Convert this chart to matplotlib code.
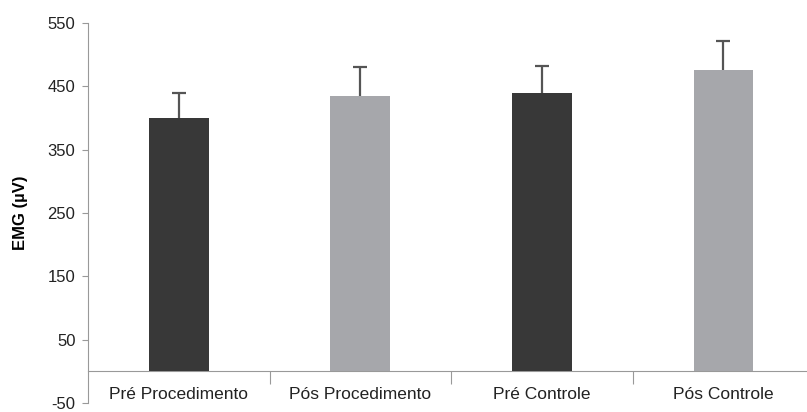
import matplotlib.pyplot as plt
import numpy as np

plt.rcParams['font.family'] = ['Liberation Sans', 'DejaVu Sans']
plt.rcParams['axes.unicode_minus'] = False

categories = ["Pré Procedimento", "Pós Procedimento", "Pré Controle", "Pós Controle"]
means = [400, 435, 440, 475]
errors = [40, 45, 42, 47]
colors = ["#383838", "#a6a7ab", "#383838", "#a6a7ab"]
yticks = [-50, 50, 150, 250, 350, 450, 550]

fig = plt.figure(figsize=(8.07, 4.12), dpi=100)
ax = fig.add_axes([88 / 807, 1 - 403 / 412, 1 - 88 / 807, (403 - 23) / 412])

x = np.arange(len(categories))
# bars drawn above the error bars so only the upper half shows
ax.bar(x, means, width=0.33, color=colors, zorder=3)
ax.errorbar(x, means, yerr=errors, fmt='none',
            ecolor="#555555", elinewidth=1.6, capsize=5, capthick=1.6, zorder=2)

ax.set_ylim(-50, 550)
ax.set_xlim(-0.5, 3.46)
ax.set_yticks(yticks)
ax.tick_params(axis='y', labelsize=12, colors="#999999", labelcolor="#222222",
               length=4, width=0.8, pad=5)

for s in ['top', 'right']:
    ax.spines[s].set_visible(False)
ax.spines['left'].set_color("#999999")
ax.spines['bottom'].set_position(('data', 0))
ax.spines['bottom'].set_color("#999999")

ax.set_xticks([])
ax.set_xticks([0.5, 1.5, 2.5], minor=True)
ax.tick_params(axis='x', which='minor', length=9, width=0.8, color="#999999",
               direction='out')

for i, lab in enumerate(categories):
    ax.text(i, -37, lab, ha='center', va='center', fontsize=12.5, color="#222222")

ax.set_ylabel("EMG (µV)", fontsize=12, fontweight='bold', labelpad=14)

fig.savefig("out.png", dpi=100)
